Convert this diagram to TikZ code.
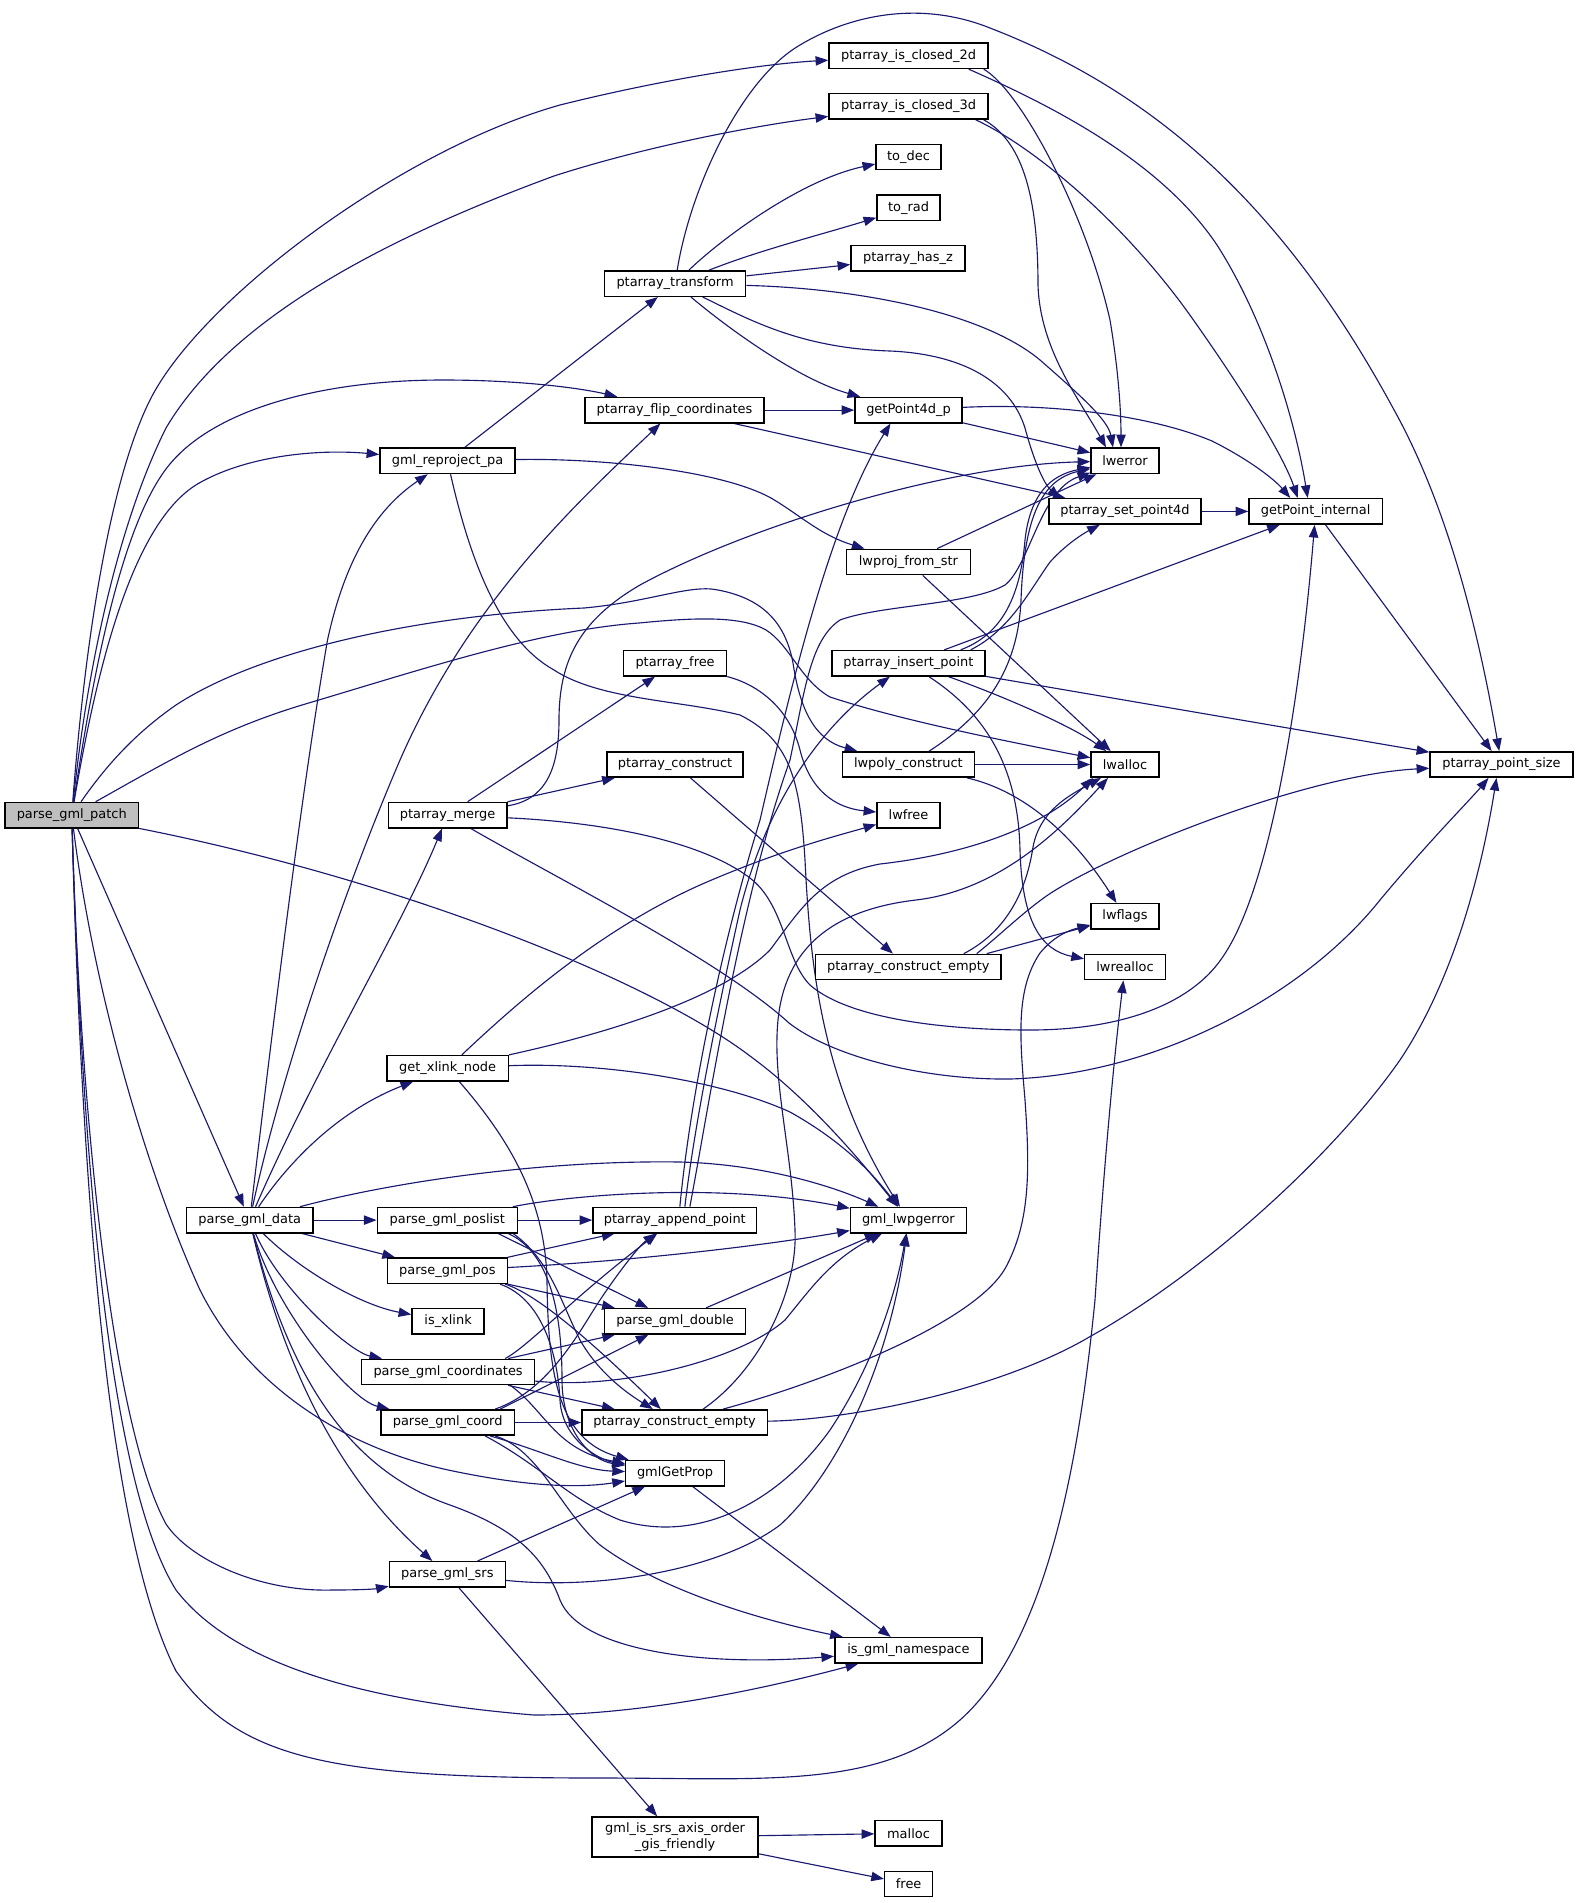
\documentclass[tikz,border=0pt]{standalone}
\usepackage{fontspec}
\setmainfont{DejaVu Sans}
\usetikzlibrary{arrows.meta,calc}
\pgfdeclarelayer{bg}
\pgfsetlayers{bg,main}
\definecolor{edgeblue}{RGB}{25,25,112}
\definecolor{rootgray}{RGB}{191,191,191}
\tikzset{
  fn/.style={draw=black, line width=1.1pt, fill=white, inner sep=0pt, minimum height=19pt,
    font=\fontsize{9.7}{11.6}\selectfont, text=black},
  root/.style={fill=rootgray},
  call/.style={draw=edgeblue, line width=0.85pt, -{Triangle[length=9.5pt,width=7pt]}},
}
\newcommand\fnode[6][]{\node[fn,#1,minimum width={(#4-#3)*0.75pt}] (#2) at ({(#3+#4)/2},#5) {#6};}
\begin{document}
\begin{tikzpicture}[x=0.75pt,y=-0.75pt]
\useasboundingbox (0,0) rectangle (1579,1903);
% nodes
\fnode[root]{pgp}{5}{138.5}{815.1}{parse\_gml\_patch}
\fnode{c2d}{829}{988}{55.8}{ptarray\_is\_closed\_2d}
\fnode{c3d}{829}{988}{106.4}{ptarray\_is\_closed\_3d}
\fnode{todec}{876}{941}{157.0}{to\_dec}
\fnode{torad}{877}{940}{207.7}{to\_rad}
\fnode{hasz}{851}{965}{258.3}{ptarray\_has\_z}
\fnode{transform}{604.5}{745.6}{283.6}{ptarray\_transform}
\fnode{flip}{585}{764}{410.1}{ptarray\_flip\_coordinates}
\fnode{reproj}{380}{515}{460.8}{gml\_reproject\_pa}
\fnode{p4d}{855}{962}{410.1}{getPoint4d\_p}
\fnode{lwerror}{1091}{1159}{460.8}{lwerror}
\fnode{setp4d}{1049}{1201}{511.4}{ptarray\_set\_point4d}
\fnode{gpi}{1249}{1382.4}{511.4}{getPoint\_internal}
\fnode{lwproj}{846.4}{970.4}{562.0}{lwproj\_from\_str}
\fnode{freepa}{623.7}{726.5}{663.2}{ptarray\_free}
\fnode{insert}{831.8}{985}{663.2}{ptarray\_insert\_point}
\fnode{construct}{607}{743}{764.5}{ptarray\_construct}
\fnode{lwpoly}{842.4}{974.4}{764.5}{lwpoly\_construct}
\fnode{lwalloc}{1091}{1159}{764.5}{lwalloc}
\fnode{psize}{1430}{1573}{764.5}{ptarray\_point\_size}
\fnode{merge}{388.4}{506.8}{815.1}{ptarray\_merge}
\fnode{lwfree}{877}{940}{815.1}{lwfree}
\fnode{lwflags}{1091}{1159}{916.3}{lwflags}
\fnode{ceA}{815.7}{1001}{967.0}{ptarray\_construct\_empty}
\fnode{lwrealloc}{1084.7}{1165.3}{967.0}{lwrealloc}
\fnode{xlink}{387}{508.3}{1068.2}{get\_xlink\_node}
\fnode{pgd}{186.4}{313}{1220.1}{parse\_gml\_data}
\fnode{poslist}{377.3}{517.4}{1220.1}{parse\_gml\_poslist}
\fnode{append}{593}{756.7}{1220.1}{ptarray\_append\_point}
\fnode{lwpgerror}{850.5}{966.3}{1220.1}{gml\_lwpgerror}
\fnode{pos}{387.4}{507.3}{1270.7}{parse\_gml\_pos}
\fnode{isxlink}{412}{484.2}{1321.3}{is\_xlink}
\fnode{double}{604.6}{745.6}{1321.3}{parse\_gml\_double}
\fnode{coords}{361.7}{534.5}{1371.9}{parse\_gml\_coordinates}
\fnode{coord}{380.9}{514.4}{1422.5}{parse\_gml\_coord}
\fnode{ceB}{581.9}{767.3}{1422.5}{ptarray\_construct\_empty}
\fnode{getprop}{625.7}{724.5}{1473.2}{gmlGetProp}
\fnode{srs}{389.4}{505.3}{1574.4}{parse\_gml\_srs}
\fnode{gmlns}{834.8}{982}{1650.3}{is\_gml\_namespace}
\node[fn, minimum width={166.2*0.75pt}, minimum height=30pt, align=center] (axis) at (675.1,1837) {gml\_is\_srs\_axis\_order\\\_gis\_friendly};
\fnode{malloc}{875}{942}{1833.3}{malloc}
\fnode{free}{884.7}{932.6}{1883.9}{free}
% edges
\begin{pgfonlayer}{bg}
% parse_gml_patch
\draw[call] (pgp) .. controls (85,640) and (110,480) .. (150,400) .. controls (200,300) and (400,150) .. (560,105) .. controls (660,80) and (760,64) .. (c2d);
\draw[call] (pgp) .. controls (88,660) and (120,520) .. (166,428) .. controls (230,320) and (380,240) .. (554,176) .. controls (650,145) and (760,125) .. (c3d);
\draw[call] (pgp) .. controls (92,680) and (120,530) .. (166,469) .. controls (210,410) and (320,380) .. (443,380) .. controls (520,380) and (580,388) .. (flip);
\draw[call] (pgp) .. controls (95,680) and (130,520) .. (201,482) .. controls (250,455) and (320,449) .. (reproj);
\draw[call] (pgp) .. controls (110,760) and (140,730) .. (176,705) .. controls (260,650) and (420,615) .. (584,608) .. controls (650,602) and (690,584) .. (718,590) .. controls (760,598) and (785,620) .. (793,663) .. controls (800,710) and (815,740) .. (lwpoly);
\draw[call] (pgp) .. controls (170,760) and (220,730) .. (302,705) .. controls (420,670) and (540,630) .. (639,623) .. controls (690,618) and (740,615) .. (766,630) .. controls (790,645) and (800,680) .. (830,697) .. controls (900,720) and (1000,740) .. (lwalloc);
\draw[call] (pgp) .. controls (400,880) and (650,980) .. (750,1056) .. controls (810,1100) and (860,1160) .. (lwpgerror);
\draw[call] (pgp) -- (pgd);
\draw[call] (pgp) .. controls (95,1000) and (150,1180) .. (200,1290) .. controls (250,1390) and (350,1450) .. (453,1471) .. controls (530,1487) and (580,1488) .. (getprop);
\draw[call] (pgp) .. controls (80,1100) and (110,1420) .. (166,1524) .. controls (190,1560) and (260,1592) .. (332,1590) .. controls (360,1590) and (375,1589) .. (srs);
\draw[call] (pgp) .. controls (85,1250) and (120,1500) .. (176,1590) .. controls (230,1660) and (350,1700) .. (534,1715) .. controls (640,1715) and (760,1690) .. (gmlns);
\draw[call] (pgp) .. controls (85,1300) and (120,1560) .. (176,1671) .. controls (240,1760) and (330,1778) .. (600,1778) .. controls (760,1778) and (880,1790) .. (960,1720) .. controls (1050,1640) and (1080,1450) .. (1095,1300) .. controls (1105,1150) and (1115,1050) .. (lwrealloc);
% gml_reproject_pa
\draw[call] (reproj) -- (transform);
\draw[call] (reproj) .. controls (600,458) and (720,470) .. (771,498) .. controls (800,515) and (820,535) .. (lwproj);
\draw[call] (reproj) .. controls (470,560) and (500,640) .. (554,670) .. controls (600,700) and (680,700) .. (740,715) .. controls (790,740) and (800,780) .. (805,860) .. controls (810,960) and (820,1080) .. (lwpgerror);
% ptarray_transform
\draw[call] (transform) .. controls (690,190) and (740,80) .. (800,45) .. controls (850,15) and (920,0) .. (990,28) .. controls (1150,90) and (1280,200) .. (1393,408) .. controls (1450,510) and (1480,640) .. (psize);
\draw[call] (transform) .. controls (720,240) and (800,180) .. (todec);
\draw[call] (transform) .. controls (760,250) and (820,235) .. (torad);
\draw[call] (transform) -- (hasz);
\draw[call] (transform) .. controls (850,288) and (980,310) .. (1040,360) .. controls (1080,395) and (1108,420) .. ($(lwerror.north)+(-12,0)$);
\draw[call] (transform) .. controls (730,330) and (800,380) .. (p4d);
\draw[call] (transform) .. controls (750,320) and (800,348) .. (890,351) .. controls (960,354) and (1010,380) .. (1025,428) .. controls (1035,465) and (1045,485) .. ($(setp4d.north west)+(12,0)$);
% ptarray_flip_coordinates
\draw[call] (flip) -- (p4d);
\draw[call] (flip) -- (setp4d);
% closed 2d / 3d
\draw[call] ($(c2d.south east)+(-5,0)$) .. controls (1020,90) and (1085,210) .. (1110,320) .. controls (1120,380) and (1121,420) .. ($(lwerror.north)+(-4,0)$);
\draw[call] ($(c2d.south east)+(-20,0)$) .. controls (1050,105) and (1160,160) .. (1217,245) .. controls (1265,320) and (1295,420) .. ($(gpi.north)+(-8,0)$);
\draw[call] ($(c3d.south east)+(-5,0)$) .. controls (1020,140) and (1038,190) .. (1038,285) .. controls (1040,350) and (1080,400) .. ($(lwerror.north)+(-19,0)$);
\draw[call] ($(c3d.south east)+(-13,0)$) .. controls (1040,150) and (1130,230) .. (1192,318) .. controls (1250,400) and (1285,460) .. ($(gpi.north)+(-18,0)$);
% getPoint4d_p, set_point4d, getPoint_internal
\draw[call] (p4d) -- (lwerror);
\draw[call] (p4d) .. controls (1050,403) and (1150,415) .. (1212,441) .. controls (1250,460) and (1275,480) .. ($(gpi.north west)+(42,0)$);
\draw[call] (setp4d) -- (gpi);
\draw[call] (gpi) -- (psize);
% lwproj_from_str
\draw[call] (lwproj) -- (lwerror);
\draw[call] (lwproj) -- (lwalloc);
% ptarray_free
\draw[call] (freepa) .. controls (760,685) and (790,710) .. (800,750) .. controls (810,790) and (835,808) .. (lwfree);
% ptarray_insert_point
\draw[call] (insert) -- (psize);
\draw[call] ($(insert.south)+(40,0)$) .. controls (1000,695) and (1070,725) .. (lwalloc);
\draw[call] (insert) .. controls (980,710) and (1018,760) .. (1020,850) .. controls (1022,920) and (1040,950) .. (lwrealloc);
\draw[call] ($(insert.north east)+(-25,0)$) .. controls (1000,635) and (1020,600) .. (1025,540) .. controls (1030,495) and (1050,475) .. (lwerror);
\draw[call] (insert) -- (gpi);
\draw[call] ($(insert.north east)+(-15,0)$) .. controls (1010,630) and (1030,590) .. (1050,562) .. controls (1070,540) and (1090,530) .. (setp4d);
% lwpoly_construct
\draw[call] (lwpoly) -- (lwalloc);
\draw[call] (lwpoly) .. controls (1020,790) and (1070,830) .. (lwflags);
\draw[call] (lwpoly) .. controls (985,715) and (1018,670) .. (1021,600) .. controls (1024,520) and (1040,480) .. (lwerror);
% ptarray_merge
\draw[call] (merge) -- (freepa);
\draw[call] (merge) -- (construct);
\draw[call] (merge) .. controls (545,800) and (559,770) .. (559,720) .. controls (559,660) and (580,620) .. (640,585) .. controls (750,525) and (950,465) .. (lwerror);
\draw[call] (merge) .. controls (600,822) and (700,840) .. (750,878) .. controls (785,905) and (785,960) .. (810,985) .. controls (850,1020) and (950,1030) .. (1030,1030) .. controls (1120,1030) and (1190,1005) .. (1222,958) .. controls (1270,890) and (1300,700) .. (gpi);
\draw[call] (merge) .. controls (560,880) and (720,960) .. (789,1023) .. controls (830,1055) and (920,1080) .. (1010,1079) .. controls (1150,1075) and (1300,1000) .. (1380,900) .. controls (1430,840) and (1470,800) .. ($(psize.south)+(-13,0)$);
% ptarray_construct
\draw[call] (construct) -- (ceA);
% ptarray_construct_empty (upper)
\draw[call] ($(ceA.north east)+(-38,0)$) .. controls (1000,935) and (1025,900) .. (1033,847) .. controls (1040,810) and (1070,795) .. ($(lwalloc.south)+(-24,0)$);
\draw[call] ($(ceA.north east)+(-15,0)$) -- (lwflags);
\draw[call] ($(ceA.north east)+(-25,0)$) .. controls (1000,935) and (1020,915) .. (1045,897) .. controls (1100,858) and (1300,775) .. (psize);
% ptarray_construct_empty (lower)
\draw[call] ($(ceB.north east)+(-65,0)$) .. controls (760,1370) and (798,1290) .. (795,1230) .. controls (792,1150) and (772,1080) .. (778,1020) .. controls (785,950) and (830,910) .. (916,900) .. controls (1000,890) and (1060,830) .. ($(lwalloc.south)+(-17,0)$);
\draw[call] ($(ceB.north east)+(-45,0)$) .. controls (830,1380) and (980,1320) .. (1007,1265) .. controls (1030,1220) and (1030,1170) .. (1025,1100) .. controls (1020,1040) and (1015,990) .. (1040,953) .. controls (1055,935) and (1070,930) .. (lwflags);
\draw[call] (ceB) .. controls (850,1420) and (1000,1390) .. (1091,1336) .. controls (1200,1275) and (1330,1160) .. (1400,1060) .. controls (1460,970) and (1485,850) .. ($(psize.south)+(-5,0)$);
% get_xlink_node
\draw[call] (xlink) .. controls (520,1000) and (600,930) .. (700,885) .. controls (780,850) and (840,835) .. (lwfree);
\draw[call] (xlink) .. controls (600,1035) and (720,1000) .. (770,950) .. controls (800,910) and (820,875) .. (880,864) .. controls (960,855) and (1040,830) .. ($(lwalloc.south)+(-32,0)$);
\draw[call] (xlink) .. controls (510,1140) and (545,1200) .. (547,1280) .. controls (548,1380) and (560,1440) .. (getprop);
\draw[call] (xlink) .. controls (600,1062) and (720,1080) .. (790,1112) .. controls (840,1140) and (870,1170) .. (lwpgerror);
% parse_gml_data
\draw[call] (pgd) .. controls (270,1050) and (300,800) .. (327.5,640) .. controls (345,560) and (375,510) .. (reproj);
\draw[call] (pgd) .. controls (280,1080) and (340,900) .. (400,760) .. controls (470,600) and (580,500) .. (flip);
\draw[call] (pgd) .. controls (320,1060) and (400,930) .. (merge);
\draw[call] (pgd) .. controls (290,1160) and (340,1110) .. (xlink);
\draw[call] (pgd) .. controls (400,1180) and (550,1160) .. (680,1162) .. controls (760,1164) and (830,1185) .. (lwpgerror);
\draw[call] (pgd) -- (poslist);
\draw[call] (pgd) -- (pos);
\draw[call] (pgd) .. controls (300,1270) and (360,1305) .. (isxlink);
\draw[call] (pgd) .. controls (280,1290) and (350,1352) .. (coords);
\draw[call] (pgd) .. controls (275,1310) and (350,1400) .. (coord);
\draw[call] (pgd) .. controls (280,1350) and (330,1470) .. (srs);
\draw[call] (pgd) .. controls (290,1380) and (350,1470) .. (450,1505) .. controls (520,1530) and (545,1560) .. (560,1600) .. controls (580,1650) and (700,1667) .. (gmlns);
% parse_gml_poslist
\draw[call] (poslist) -- (append);
\draw[call] (poslist) .. controls (570,1195) and (720,1182) .. (lwpgerror);
\draw[call] ($(poslist.south east)+(-20,0)$) -- (double);
\draw[call] ($(poslist.south east)+(-5,0)$) .. controls (550,1260) and (560,1300) .. (580,1340) .. controls (600,1375) and (630,1395) .. (ceB);
\draw[call] ($(poslist.south east)+(-10,0)$) .. controls (545,1250) and (562,1300) .. (562,1380) .. controls (562,1430) and (590,1460) .. (getprop);
% parse_gml_pos
\draw[call] (pos) -- (append);
\draw[call] (pos) .. controls (650,1260) and (780,1243) .. (lwpgerror);
\draw[call] (pos) -- (double);
\draw[call] ($(pos.south east)+(-3,0)$) .. controls (540,1295) and (600,1350) .. (ceB);
\draw[call] ($(pos.south east)+(-8,0)$) .. controls (545,1300) and (558,1360) .. (560,1400) .. controls (562,1440) and (600,1460) .. (getprop);
% parse_gml_coordinates
\draw[call] ($(coords.north east)+(-30,0)$) .. controls (530,1345) and (570,1300) .. (append);
\draw[call] (coords) -- (double);
\draw[call] (coords) -- (ceB);
\draw[call] (coords) .. controls (620,1390) and (740,1360) .. (785,1320) .. controls (810,1290) and (830,1260) .. (lwpgerror);
\draw[call] ($(coords.south east)+(-25,0)$) .. controls (545,1410) and (555,1450) .. (getprop);
% parse_gml_coord
\draw[call] ($(coord.north east)+(-20,0)$) .. controls (550,1390) and (580,1330) .. (600,1300) .. controls (620,1270) and (640,1245) .. (append);
\draw[call] ($(coord.north east)+(-15,0)$) -- (double);
\draw[call] (coord) -- (ceB);
\draw[call] ($(coord.south east)+(-20,0)$) .. controls (540,1450) and (560,1510) .. (600,1545) .. controls (660,1590) and (760,1620) .. (gmlns);
\draw[call] ($(coord.south east)+(-30,0)$) .. controls (540,1465) and (570,1500) .. (620,1520) .. controls (700,1545) and (780,1500) .. (830,1430) .. controls (870,1370) and (895,1300) .. (lwpgerror);
\draw[call] ($(coord.south east)+(-25,0)$) .. controls (540,1450) and (580,1470) .. (getprop);
% parse_gml_srs
\draw[call] (srs) -- (getprop);
\draw[call] (srs) .. controls (600,1590) and (720,1570) .. (780,1525) .. controls (840,1470) and (890,1360) .. (lwpgerror);
\draw[call] (srs) -- (axis);
% gmlGetProp, parse_gml_double
\draw[call] (getprop) -- (gmlns);
\draw[call] (double) -- (lwpgerror);
% ptarray_append_point
\draw[call] ($(append.north)+(5,0)$) .. controls (690,1100) and (720,950) .. (760,820) .. controls (790,690) and (830,520) .. ($(p4d.south)+(-18,0)$);
\draw[call] ($(append.north)+(10,0)$) .. controls (695,1120) and (720,1000) .. (740,910) .. controls (770,790) and (830,720) .. (insert);
\draw[call] ($(append.north)+(15,0)$) .. controls (710,1100) and (740,900) .. (790,760) .. controls (805,690) and (810,640) .. (840,620) .. controls (880,605) and (970,605) .. (1005,585) .. controls (1030,565) and (1040,490) .. (lwerror);
% axis order
\draw[call] (axis) -- (malloc);
\draw[call] (axis) -- (free);
\end{pgfonlayer}
\end{tikzpicture}
\end{document}
